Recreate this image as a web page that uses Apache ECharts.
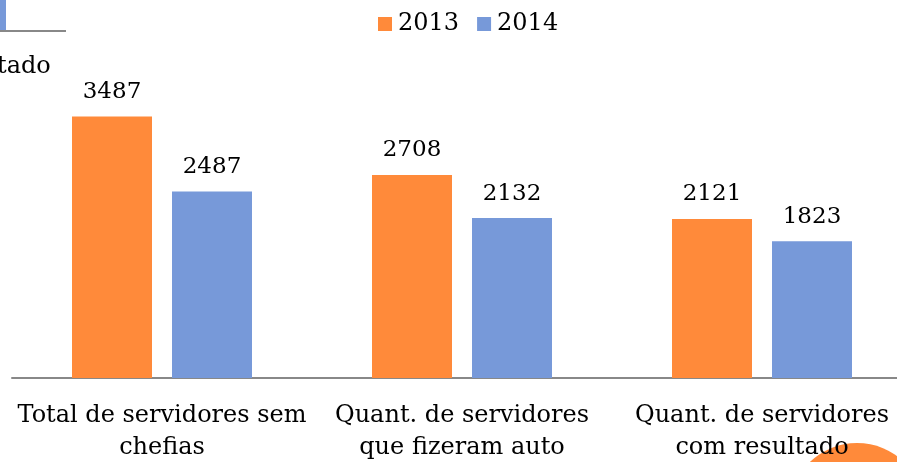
<!DOCTYPE html>
<html>
<head>
<meta charset="utf-8">
<script src="https://cdn.jsdelivr.net/npm/echarts@6/dist/echarts.min.js"></script>
<style>
  html, body { margin: 0; padding: 0; background: #fff; overflow: hidden; }
  #chart { width: 912px; height: 462px; }
</style>
</head>
<body>
<div id="chart"></div>
<script>
// dados do gráfico
var categorias = ['Total de servidores sem\nchefias', 'Quant. de servidores\nque fizeram auto', 'Quant. de servidores\ncom resultado'];
var anos = ['2013', '2014'];
var valores2013 = [3487, 2708, 2121];
var valores2014 = [2487, 2132, 1823];

var fonte = '"DejaVu Serif", "Liberation Serif", serif';
var chart = echarts.init(document.getElementById('chart'));

chart.setOption({
    animation: false,
    textStyle: { fontFamily: fonte },
    legend: {
        top: 7,
        left: 373,
        itemWidth: 14,
        itemHeight: 14,
        itemGap: 18,
        icon: 'rect',
        textStyle: { fontSize: 24, color: '#000', fontFamily: fonte, padding: [0, 0, 0, 1] },
        data: anos
    },
    grid: {
        left: 12,
        right: 0,
        top: 78,
        bottom: 84,
        containLabel: false,
        outerBoundsMode: 'none'
    },
    xAxis: {
        type: 'category',
        data: categorias,
        axisLine: { lineStyle: { color: '#888', width: 2 } },
        axisTick: { show: false },
        axisLabel: {
            interval: 0,
            margin: 22,
            fontSize: 24,
            lineHeight: 32,
            color: '#000',
            fontFamily: fonte
        }
    },
    yAxis: {
        type: 'value',
        min: 0,
        max: 4000,
        show: false,
        splitLine: { show: false }
    },
    series: [
        {
            name: anos[0],
            type: 'bar',
            barGap: '25%',
            barCategoryGap: '40%',
            data: valores2013,
            itemStyle: { color: '#ff8a3a' },
            label: { show: true, position: 'top', distance: 13, fontSize: 23, color: '#000', fontFamily: fonte }
        },
        {
            name: anos[1],
            type: 'bar',
            data: valores2014,
            itemStyle: { color: '#7799d9' },
            label: { show: true, position: 'top', distance: 13, fontSize: 23, color: '#000', fontFamily: fonte }
        }
    ],
    graphic: [
        { type: 'rect', shape: { x: 0, y: 0, width: 6, height: 30 }, style: { fill: '#7799d9' } },
        { type: 'line', shape: { x1: 0, y1: 31, x2: 66, y2: 31 }, style: { stroke: '#888', lineWidth: 2 } },
        { type: 'text', left: -3, top: 55, style: { text: 'tado', fontSize: 24, fill: '#000', fontFamily: fonte } },
        { type: 'circle', shape: { cx: 857, cy: 511, r: 68 }, style: { fill: '#ff8a3a' } }
    ]
});
</script>
</body>
</html>
